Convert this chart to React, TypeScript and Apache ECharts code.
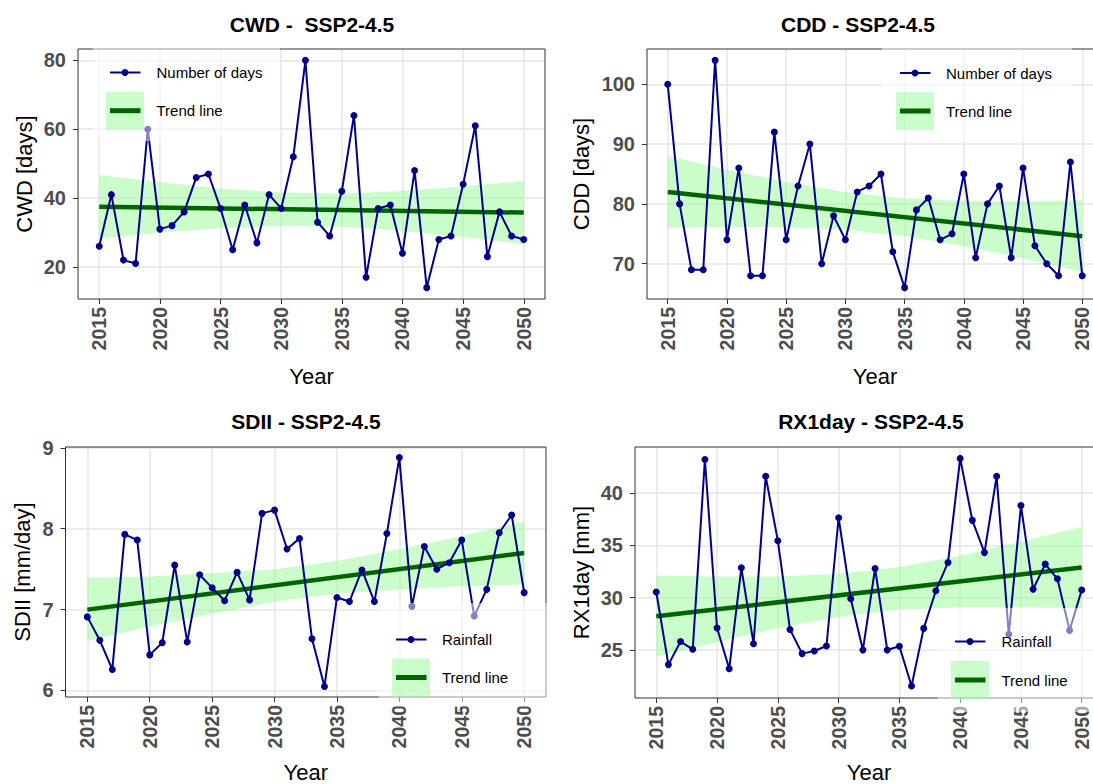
import React, { useEffect, useRef } from "react";
import * as echarts from "echarts";

// ---------------- data ----------------
const years = [
  2015, 2016, 2017, 2018, 2019, 2020, 2021, 2022, 2023, 2024, 2025, 2026, 2027, 2028, 2029, 2030, 2031, 2032,
  2033, 2034, 2035, 2036, 2037, 2038, 2039, 2040, 2041, 2042, 2043, 2044, 2045, 2046, 2047, 2048, 2049, 2050,
];
const yearTicks = [2015, 2020, 2025, 2030, 2035, 2040, 2045, 2050];

const cwdDays = [26, 41, 22, 21, 60, 31, 32, 36, 46, 47, 37, 25, 38, 27, 41, 37, 52, 80, 33, 29, 42, 64, 17, 37, 38, 24, 48, 14, 28, 29, 44, 61, 23, 36, 29, 28];
const cddDays = [100, 80, 69, 69, 104, 74, 86, 68, 68, 92, 74, 83, 90, 70, 78, 74, 82, 83, 85, 72, 66, 79, 81, 74, 75, 85, 71, 80, 83, 71, 86, 73, 70, 68, 87, 68];
const sdiiRain = [6.91, 6.62, 6.26, 7.93, 7.86, 6.44, 6.59, 7.55, 6.6, 7.43, 7.27, 7.11, 7.46, 7.12, 8.19, 8.23, 7.75, 7.88, 6.64, 6.05, 7.15, 7.1, 7.49, 7.1, 7.94, 8.88, 7.04, 7.78, 7.5, 7.58, 7.86, 6.92, 7.25, 7.95, 8.17, 7.21];
const rx1Rain = [30.54, 23.6, 25.8, 25.06, 43.2, 27.1, 23.2, 32.85, 25.6, 41.6, 35.44, 26.96, 24.65, 24.9, 25.38, 37.63, 29.9, 25.0, 32.78, 25.0, 25.35, 21.55, 27.06, 30.66, 33.36, 43.3, 37.38, 34.3, 41.59, 26.5, 38.8, 30.8, 33.2, 31.8, 26.87, 30.73];

// trend line end points (2015, 2050)
const trendYears = [2015, 2050];
const cwdTrend = [37.5, 35.8];
const cddTrend = [82.0, 74.6];
const sdiiTrend = [7.0, 7.7];
const rx1Trend = [28.22, 32.88];

// confidence band read at these years
const bandYears = [2015, 2020, 2025, 2030, 2035, 2040, 2045, 2050];
const cwdLower = [28.3, 29.91, 31.21, 31.94, 31.7, 30.49, 28.69, 26.6];
const cwdUpper = [46.7, 44.61, 42.81, 41.6, 41.36, 42.09, 43.39, 45.0];
const cddLower = [76.0, 76.15, 76.11, 75.68, 74.62, 72.93, 70.87, 68.6];
const cddUpper = [88.0, 85.73, 83.67, 81.98, 80.92, 80.49, 80.45, 80.6];
const sdiiLower = [6.61, 6.79, 6.95, 7.1, 7.2, 7.25, 7.29, 7.31];
const sdiiUpper = [7.39, 7.41, 7.45, 7.5, 7.6, 7.75, 7.91, 8.09];
const rx1Lower = [24.32, 25.77, 27.09, 28.17, 28.83, 29.09, 29.09, 28.98];
const rx1Upper = [32.12, 32.01, 32.01, 32.27, 32.93, 34.01, 35.33, 36.78];

// y tick labels
const cwdTicks = [20, 40, 60, 80];
const cddTicks = [70, 80, 90, 100];
const sdiiTicks = [6, 7, 8, 9];
const rx1Ticks = [25, 30, 35, 40];

// ---------------- styles / layout ----------------
const FONT = "'Liberation Sans', Arial, Helvetica, sans-serif";
const NAVY = "#00008b";
const DARKGREEN = "#006400";
const BAND = "rgba(152,251,152,0.5)";
const GRID_LINE = "#e6e6e6";
const FRAME = "#333333";
const TICK_TEXT = "#4d4d4d";

type Panel = {
  title: string;
  titleX: number;
  titleY: number;
  yName: string;
  yNameX: number;
  yearY: number;
  seriesName: string;
  values: number[];
  trend: number[];
  lower: number[];
  upper: number[];
  ticks: number[];
  tickStep: number;
  yMin: number;
  yMax: number;
  grid: { left: number; top: number; width: number; height: number };
  legend: { boxX: number; boxY: number; boxW: number; boxH: number; keyX: number; row1: number; row2: number; textX: number };
};

const panels: Panel[] = [
  {
    title: "CWD -  SSP2-4.5", titleX: 312, titleY: 24, yName: "CWD [days]", yNameX: 24, yearY: 376,
    seriesName: "Number of days", values: cwdDays, trend: cwdTrend, lower: cwdLower, upper: cwdUpper,
    ticks: cwdTicks, tickStep: 20, yMin: 10.7, yMax: 83.3,
    grid: { left: 78, top: 49, width: 467, height: 250 },
    legend: { boxX: 93, boxY: 46, boxW: 187, boxH: 95, keyX: 106, row1: 72.5, row2: 110.7, textX: 156.5 },
  },
  {
    title: "CDD - SSP2-4.5", titleX: 858, titleY: 24, yName: "CDD [days]", yNameX: 581, yearY: 376,
    seriesName: "Number of days", values: cddDays, trend: cddTrend, lower: cddLower, upper: cddUpper,
    ticks: cddTicks, tickStep: 10, yMin: 64.1, yMax: 105.9,
    grid: { left: 647, top: 49, width: 456, height: 250 },
    legend: { boxX: 882, boxY: 46, boxW: 190, boxH: 95, keyX: 896, row1: 73, row2: 111, textX: 946 },
  },
  {
    title: "SDII - SSP2-4.5", titleX: 306, titleY: 421, yName: "SDII [mm/day]", yNameX: 22, yearY: 772,
    seriesName: "Rainfall", values: sdiiRain, trend: sdiiTrend, lower: sdiiLower, upper: sdiiUpper,
    ticks: sdiiTicks, tickStep: 1, yMin: 5.9195, yMax: 9.0105,
    grid: { left: 65.5, top: 447, width: 480.5, height: 250 },
    legend: { boxX: 379, boxY: 603, boxW: 168, boxH: 104, keyX: 392, row1: 639.5, row2: 677.5, textX: 442 },
  },
  {
    title: "RX1day - SSP2-4.5", titleX: 871, titleY: 421, yName: "RX1day [mm]", yNameX: 581, yearY: 772,
    seriesName: "Rainfall", values: rx1Rain, trend: rx1Trend, lower: rx1Lower, upper: rx1Upper,
    ticks: rx1Ticks, tickStep: 5, yMin: 20.41, yMax: 44.39,
    grid: { left: 635, top: 447, width: 468, height: 251 },
    legend: { boxX: 938, boxY: 608, boxW: 180, boxH: 104, keyX: 951, row1: 641.5, row2: 680, textX: 1001.5 },
  },
];

function buildOption() {
  const grid: any[] = [];
  const xAxis: any[] = [];
  const yAxis: any[] = [];
  const series: any[] = [];
  const graphic: any[] = [];

  panels.forEach((p, i) => {
    grid.push({
      left: p.grid.left, top: p.grid.top, width: p.grid.width, height: p.grid.height,
      show: false,
    });
    xAxis.push({
      type: "value", gridIndex: i, min: 2013.25, max: 2051.75, minInterval: 5, maxInterval: 5,
      axisLine: { show: false },
      axisTick: { show: true, length: 5, lineStyle: { color: FRAME, width: 1 }, customValues: yearTicks },
      axisLabel: {
        customValues: yearTicks, rotate: 90, margin: 8, color: TICK_TEXT, fontWeight: "bold",
        fontSize: 19.5, fontFamily: FONT, formatter: (v: number) => String(v),
      },
      splitLine: { show: true, lineStyle: { color: GRID_LINE, width: 1.5 } },
    });
    yAxis.push({
      type: "value", gridIndex: i, min: p.yMin, max: p.yMax, minInterval: p.tickStep, maxInterval: p.tickStep,
      axisLine: { show: false },
      axisTick: { show: true, length: 5, lineStyle: { color: FRAME, width: 1 }, customValues: p.ticks },
      axisLabel: {
        customValues: p.ticks, margin: 12, color: TICK_TEXT, fontWeight: "bold", fontSize: 20, fontFamily: FONT,
        formatter: (v: number) => String(v),
      },
      splitLine: { show: true, lineStyle: { color: GRID_LINE, width: 1.5 } },
    });

    const lower = p.lower;
    const upper = p.upper;
    series.push({
      type: "custom", name: "band" + i, xAxisIndex: i, yAxisIndex: i, silent: true, z: 1,
      data: [[bandYears[0], lower[0]]],
      renderItem: (_params: any, api: any) => {
        const pts: number[][] = [];
        for (let k = 0; k < bandYears.length; k++) pts.push(api.coord([bandYears[k], upper[k]]));
        for (let k = bandYears.length - 1; k >= 0; k--) pts.push(api.coord([bandYears[k], lower[k]]));
        return { type: "polygon", shape: { points: pts }, style: { fill: BAND } };
      },
    });
    series.push({
      type: "line", name: "Trend line", xAxisIndex: i, yAxisIndex: i, silent: true, z: 2,
      data: trendYears.map((y, k) => [y, p.trend[k]]),
      symbol: "none", lineStyle: { color: DARKGREEN, width: 4.5 },
    });
    series.push({
      type: "line", name: p.seriesName, xAxisIndex: i, yAxisIndex: i, silent: true, z: 3,
      data: years.map((y, k) => [y, p.values[k]]),
      symbol: "circle", symbolSize: 7, showSymbol: true,
      itemStyle: { color: NAVY }, lineStyle: { color: NAVY, width: 2 },
    });

    // panel frame (drawn above grid lines)
    graphic.push({
      type: "rect", z: 40, silent: true,
      shape: { x: p.grid.left, y: p.grid.top, width: p.grid.width, height: p.grid.height },
      style: { fill: "none", stroke: FRAME, lineWidth: 1 },
    });

    // titles
    graphic.push({
      type: "text", x: p.titleX, y: p.titleY, z: 60,
      style: { text: p.title, align: "center", verticalAlign: "middle", font: `bold 21px ${FONT}`, fill: "#000" },
    });
    graphic.push({
      type: "text", x: p.yNameX, y: p.grid.top + p.grid.height / 2, rotation: Math.PI / 2, z: 60,
      style: { text: p.yName, align: "center", verticalAlign: "middle", font: `22px ${FONT}`, fill: "#000" },
    });
    graphic.push({
      type: "text", x: p.grid.left + (2032.5 - 2013.25) / 38.5 * p.grid.width, y: p.yearY, z: 60,
      style: { text: "Year", align: "center", verticalAlign: "middle", font: `22px ${FONT}`, fill: "#000" },
    });

    // legend
    const L = p.legend;
    graphic.push({
      type: "rect", z: 50, shape: { x: L.boxX, y: L.boxY, width: L.boxW, height: L.boxH },
      style: { fill: "rgba(255,255,255,0.5)" },
    });
    graphic.push({
      type: "line", z: 51, shape: { x1: L.keyX + 4, y1: L.row1, x2: L.keyX + 34.5, y2: L.row1 },
      style: { stroke: NAVY, lineWidth: 2 },
    });
    graphic.push({
      type: "circle", z: 52, shape: { cx: L.keyX + 19, cy: L.row1, r: 3.5 }, style: { fill: NAVY },
    });
    graphic.push({
      type: "text", x: L.textX, y: L.row1, z: 52,
      style: { text: p.seriesName, align: "left", verticalAlign: "middle", font: `15px ${FONT}`, fill: "#000" },
    });
    graphic.push({
      type: "rect", z: 51, shape: { x: L.keyX, y: L.row2 - 19, width: 38, height: 38 }, style: { fill: BAND },
    });
    graphic.push({
      type: "line", z: 52, shape: { x1: L.keyX + 4, y1: L.row2, x2: L.keyX + 34.5, y2: L.row2 },
      style: { stroke: DARKGREEN, lineWidth: 5 },
    });
    graphic.push({
      type: "text", x: L.textX, y: L.row2, z: 52,
      style: { text: "Trend line", align: "left", verticalAlign: "middle", font: `15px ${FONT}`, fill: "#000" },
    });
  });

  return {
    animation: false,
    backgroundColor: "#ffffff",
    textStyle: { fontFamily: FONT },
    grid, xAxis, yAxis, series, graphic,
  };
}

export default function App() {
  const ref = useRef<HTMLDivElement | null>(null);
  useEffect(() => {
    if (!ref.current) return;
    const chart = echarts.init(ref.current, undefined, { renderer: "svg" });
    chart.setOption(buildOption() as any);
    return () => chart.dispose();
  }, []);
  return (
    <div style={{ position: "fixed", left: 0, top: 0, width: 1093, height: 784, overflow: "hidden", background: "#fff" }}>
      <div ref={ref} style={{ width: 1120, height: 784 }} />
    </div>
  );
}
